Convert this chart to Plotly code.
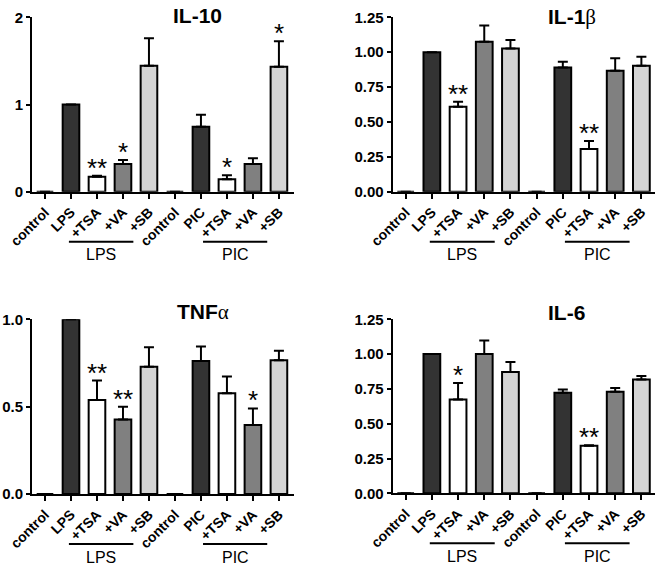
import plotly.graph_objects as go

W, H = 664, 569

categories = ["control", "LPS", "+TSA", "+VA", "+SB", "control", "PIC", "+TSA", "+VA", "+SB"]
colors = ["#333333", "#333333", "#ffffff", "#808080", "#d4d4d4",
          "#333333", "#333333", "#ffffff", "#808080", "#d4d4d4"]

titles = ["<b>IL-10</b>", "<b>IL-1</b><span style='font-family:Liberation Serif'>β</span>",
          "<b>TNF</b><span style='font-family:Liberation Serif'>α</span>", "<b>IL-6</b>"]

il10_mean = [0, 1.00, 0.172, 0.318, 1.445, 0, 0.746, 0.142, 0.318, 1.434]
il10_err = [None, None, 0.010, 0.046, 0.315, None, 0.137, 0.048, 0.065, 0.291]
il10_star = ["", "", "**", "*", "", "", "", "*", "", "*"]

il1b_mean = [0, 1.00, 0.609, 1.075, 1.027, 0, 0.891, 0.306, 0.867, 0.903]
il1b_err = [None, None, 0.036, 0.117, 0.060, None, 0.041, 0.057, 0.089, 0.065]
il1b_star = ["", "", "**", "", "", "", "", "**", "", ""]

tnfa_mean = [0, 1.00, 0.538, 0.427, 0.729, 0, 0.761, 0.576, 0.395, 0.765]
tnfa_err = [None, None, 0.111, 0.073, 0.111, None, 0.083, 0.096, 0.095, 0.055]
tnfa_star = ["", "", "**", "**", "", "", "", "", "*", ""]

il6_mean = [0, 1.00, 0.674, 1.000, 0.872, 0, 0.722, 0.342, 0.729, 0.817]
il6_err = [None, None, 0.119, 0.097, 0.072, None, 0.024, 0.003, 0.028, 0.026]
il6_star = ["", "", "*", "", "", "", "", "**", "", ""]

y_ranges = [[0, 2], [0, 1.25], [0, 1.0], [0, 1.25]]
y_ticks = [[0, 1, 2], [0, 0.25, 0.5, 0.75, 1.0, 1.25], [0, 0.5, 1.0], [0, 0.25, 0.5, 0.75, 1.0, 1.25]]
y_fmt = ["d", ".2f", ".1f", ".2f"]

group_labels = ["LPS", "PIC"]
group_spans = [[0.92, 3.4], [6.08, 8.55]]

means = [il10_mean, il1b_mean, tnfa_mean, il6_mean]
errs = [il10_err, il1b_err, tnfa_err, il6_err]
stars = [il10_star, il1b_star, tnfa_star, il6_star]

# layout in pixels
x_px = [(32.0, 294.0), (392.6, 655.0), (32.0, 294.0), (392.6, 655.0)]
x_rng = [[-0.5, 9.58], [-0.5, 9.52], [-0.5, 9.58], [-0.5, 9.52]]
y_px = [(17.3, 191.7), (17.3, 191.7), (319.3, 494.0), (319.3, 493.3)]
title_px = [(197, 15.7), (572, 16.7), (203, 311.7), (566, 312.7)]
group_line_off = 50
group_label_off = 63

font_main = "Arial, Liberation Sans, sans-serif"

fig = go.Figure()
layout = dict(width=W, height=H, margin=dict(l=0, r=0, t=0, b=0, autoexpand=False),
              paper_bgcolor="white", plot_bgcolor="white", showlegend=False)
annotations = []
shapes = []

for i in range(4):
    xa = "x" if i == 0 else f"x{i+1}"
    ya = "y" if i == 0 else f"y{i+1}"
    xkey = "xaxis" if i == 0 else f"xaxis{i+1}"
    ykey = "yaxis" if i == 0 else f"yaxis{i+1}"
    m = means[i]
    e = [v if v is not None else float("nan") for v in errs[i]]
    fig.add_trace(go.Bar(
        x=list(range(len(categories))), y=m, xaxis=xa, yaxis=ya,
        width=0.64,
        marker=dict(color=colors, line=dict(color="black", width=2)),
        error_y=dict(type="data", symmetric=False, array=e,
                     arrayminus=[0] * len(e), color="black", thickness=2, width=5),
        hoverinfo="skip",
    ))
    x0, x1 = x_px[i]
    yt, yb = y_px[i]
    layout[xkey] = dict(
        domain=[x0 / W, x1 / W], anchor=ya, range=x_rng[i], automargin=False,
        tickmode="array", tickvals=list(range(len(categories))), ticktext=categories,
        tickangle=-45, ticks="outside", ticklen=5, tickwidth=2, tickcolor="black",
        showline=True, linecolor="black", linewidth=2, showgrid=False, zeroline=False,
        tickfont=dict(family=font_main, size=14, color="black", weight="bold"),
        fixedrange=True,
    )
    layout[ykey] = dict(
        domain=[1 - yb / H, 1 - yt / H], anchor=xa, range=y_ranges[i], automargin=False,
        tickmode="array", tickvals=y_ticks[i], tickformat=y_fmt[i],
        ticks="outside", ticklen=4, tickwidth=2, tickcolor="black",
        showline=True, linecolor="black", linewidth=2, showgrid=False, zeroline=False,
        tickfont=dict(family=font_main, size=15, color="black", weight="bold"),
        fixedrange=True,
    )
    tx, ty = title_px[i]
    annotations.append(dict(text=titles[i], x=tx / W, y=1 - ty / H, xref="paper", yref="paper",
                            xanchor="center", yanchor="middle", showarrow=False,
                            font=dict(family=font_main, size=21, color="black")))
    for j, s in enumerate(stars[i]):
        if s:
            top = m[j] + (errs[i][j] or 0)
            annotations.append(dict(text=s, x=j, y=top, xref=xa, yref=ya,
                                    xanchor="center", yanchor="middle", yshift=8,
                                    showarrow=False,
                                    font=dict(family=font_main, size=26, color="black")))
    for g, (a, b) in zip(group_labels, group_spans):
        ly = 1 - (yb + group_line_off) / H
        shapes.append(dict(type="line", xref=xa, yref="paper", x0=a, x1=b, y0=ly, y1=ly,
                           line=dict(color="black", width=2)))
        annotations.append(dict(text=g, x=(a + b) / 2, y=1 - (yb + group_label_off) / H,
                                xref=xa, yref="paper", xanchor="center", yanchor="middle",
                                showarrow=False,
                                font=dict(family=font_main, size=16, color="black")))

layout["annotations"] = annotations
layout["shapes"] = shapes
fig.update_layout(**layout)
fig.write_html("out.html", config={"displayModeBar": False},
               post_script="document.body.style.margin='0';document.body.style.overflow='hidden';")
